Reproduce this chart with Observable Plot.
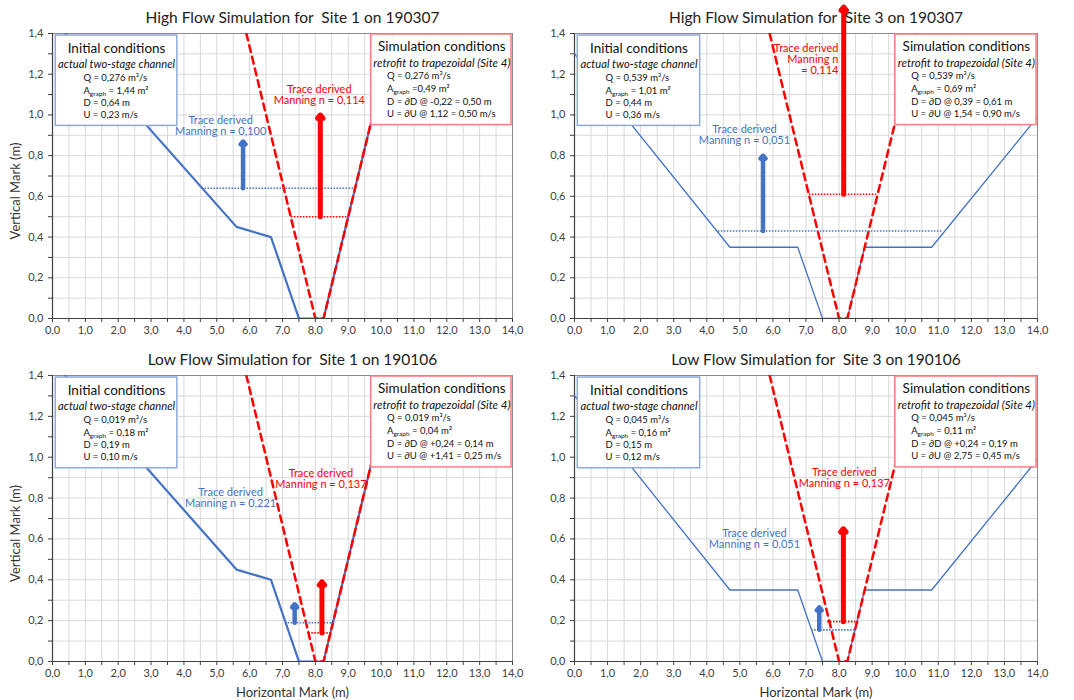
<!DOCTYPE html>
<html><head><meta charset="utf-8">
<script src="https://cdn.jsdelivr.net/npm/d3@7"></script>
<script src="https://cdn.jsdelivr.net/npm/@observablehq/plot@0.6"></script>
<style>
body{margin:0;background:#fff;}
#wrap{position:relative;width:1074px;height:700px;overflow:hidden;background:#fff;}
.panel{position:absolute;}
.panel svg{background:transparent;overflow:visible;}
.panel text{white-space:pre;}
</style></head><body><div id="wrap"></div>
<script>
// ---------- data ----------
const titles = [
  "High Flow Simulation for  Site 1 on 190307",
  "High Flow Simulation for  Site 3 on 190307",
  "Low Flow Simulation for  Site 1 on 190106",
  "Low Flow Simulation for  Site 3 on 190106"
];
const panelSite = [1, 3, 1, 3];
// actual two-stage channel cross sections (blue)
const site1X = [0, 5.6, 6.65, 7.5, 8.25, 10.35];
const site1Y = [1.47, 0.45, 0.40, 0.0, 0.0, 1.4];
const site3X = [0, 4.7, 6.75, 7.5, 8.25, 8.77, 10.8, 14.0];
const site3Y = [1.3, 0.35, 0.35, 0.0, 0.0, 0.35, 0.35, 0.99];
// retrofit trapezoidal channel (red dashed)
const trapX = [5.9, 8.0, 8.25, 10.35];
const trapY = [1.4, 0.0, 0.0, 1.4];

const initLines = [
  ["Q = 0,276 m³/s", "Agraph = 1,44 m²", "D = 0,64 m", "U = 0,23 m/s"],
  ["Q = 0,539 m³/s", "Agraph = 1,01 m²", "D = 0,44 m", "U = 0,36 m/s"],
  ["Q = 0,019 m³/s", "Agraph = 0,18 m²", "D = 0,19 m", "U = 0,10 m/s"],
  ["Q = 0,045 m³/s", "Agraph = 0,16 m²", "D = 0,15 m", "U = 0,12 m/s"]
];
const simLines = [
  ["Q = 0,276 m³/s", "Agraph =0,49 m²", "D = ∂D @ -0,22 = 0,50 m", "U = ∂U @ 1,12 = 0,50 m/s"],
  ["Q = 0,539 m³/s", "Agraph = 0,69 m²", "D = ∂D @ 0,39 = 0,61 m", "U = ∂U @ 1,54 = 0,90 m/s"],
  ["Q = 0,019 m³/s", "Agraph = 0,04 m²", "D = ∂D @ +0,24 = 0,14 m", "U = ∂U @ +1,41 = 0,25 m/s"],
  ["Q = 0,045 m³/s", "Agraph = 0,11 m²", "D = ∂D @ +0,24 = 0,19 m", "U = ∂U @ 2,75 = 0,45 m/s"]
];
const blueLabels = [
  "Trace derived\nManning n = 0,100",
  "Trace derived\nManning n = 0,051",
  "Trace derived\nManning n = 0,221",
  "Trace derived\nManning n = 0,051"
];
const redLabels = [
  "Trace derived\nManning n = 0,114",
  "Trace derived\nManning n\n= 0,114",
  "Trace derived\nManning n = 0,137",
  "Trace derived\nManning n = 0,137"
];
const blueDepth    = [0.64, 0.43, 0.19, 0.155];
const blueDotFrom  = [4.55, 4.35, 7.17, 7.17];
const blueDotTo    = [9.2, 11.15, 8.6, 8.5];
const blueArrowX   = [5.8, 5.7, 7.37, 7.4];
const blueArrowTop = [0.87, 0.80, 0.28, 0.265];
const redDepth     = [0.50, 0.61, 0.14, 0.195];
const redDotFrom   = [7.27, 7.1, 7.8, 7.65];
const redDotTo     = [9.03, 9.17, 8.5, 8.6];
const redArrowX    = [8.15, 8.14, 8.2, 8.13];
const redArrowTop  = [1.0, 1.53, 0.39, 0.65];
const blueLabelX = [5.12, 5.14, 5.42, 5.44];
const blueLabelY = [0.945, 0.90, 0.80, 0.60];
const redLabelX  = [8.12, 7.98, 8.17, 8.16];
const redLabelY  = [1.10, 1.27, 0.894, 0.90];
const redLabelAnchor = ["middle", "end", "middle", "middle"];

const xTicks = d3.range(0, 29).map(i => i / 2);
const yTicks = d3.range(0, 15).map(i => i / 10);

// ---------- layout ----------
const panelLeft = [0, 537, 0, 537];
const panelTop = [0, 0, 340, 340];
const panelH = [340, 340, 360, 360];
const mLeft = [52, 37, 52, 37];
const mRight = [25, 37, 25, 37];
const mTop = [33, 33, 35, 35];
const mBottom = [22, 22, 39, 39];

const BLUE = "#4472c4", RED = "#ff0000";
const fmt = d => d.toFixed(1).replace(".", ",");
const FONT = "Lato, 'Open Sans', sans-serif";

function makePanel(i) {
  const site = panelSite[i];
  const px = site === 1 ? site1X : site3X;
  const py = site === 1 ? site1Y : site3Y;
  const profile = px.map((x, j) => ({x, y: py[j]}));
  const trap = trapX.map((x, j) => ({x, y: trapY[j]}));
  const isLeft = i % 2 === 0, isBottom = i >= 2;
  const initTextRows = initLines[i].map((t, j) => ({t, y: [1.18, 1.12, 1.06, 1.0][j]}));
  const simTextRows = simLines[i].map((t, j) => ({t, y: [1.19, 1.13, 1.066, 1.004][j]}));

  const marks = [
    Plot.gridX(xTicks, {stroke: "#d9d9d9", strokeOpacity: 1}),
    Plot.gridY(yTicks, {stroke: "#d9d9d9", strokeOpacity: 1}),
    Plot.frame({stroke: "#8c8c8c"}),
    Plot.axisX(xTicks, {tickFormat: d => Number.isInteger(d) ? fmt(d) : "", tickSize: 4, tickPadding: 4,
      label: null, fontSize: 11, color: "#404040"}),
    Plot.axisY(yTicks, {tickFormat: d => Math.round(d * 10) % 2 === 0 ? fmt(d) : "", tickSize: 4, tickPadding: 5,
      label: null, fontSize: 11, color: "#404040"}),
    Plot.ruleY([0], {stroke: "#404040", strokeWidth: 1.2}),
    Plot.ruleX([0], {stroke: "#404040", strokeWidth: 1.2}),
    Plot.text([titles[i]], {frameAnchor: "top", lineAnchor: "middle", dy: -15, dx: 10, fontSize: 15.5, fill: "#222"}),
    Plot.line(profile, {x: "x", y: "y", stroke: BLUE, strokeWidth: site === 1 ? 2.2 : 1.3, clip: true}),
    Plot.line(trap, {x: "x", y: "y", stroke: RED, strokeWidth: 2.5, strokeDasharray: "7,5", clip: true}),
    Plot.ruleY([blueDepth[i]], {x1: blueDotFrom[i], x2: blueDotTo[i], stroke: BLUE, strokeWidth: 1.6, strokeDasharray: "1.5,1.5"}),
    Plot.ruleY([redDepth[i]], {x1: redDotFrom[i], x2: redDotTo[i], stroke: RED, strokeWidth: 1.6, strokeDasharray: "1.5,1.5"}),
    Plot.arrow([0], {x1: blueArrowX[i], y1: blueDepth[i], x2: blueArrowX[i], y2: blueArrowTop[i],
      stroke: BLUE, strokeWidth: 4.5, headLength: 1.3, headAngle: 80}),
    Plot.arrow([0], {x1: redArrowX[i], y1: redDepth[i], x2: redArrowX[i], y2: redArrowTop[i],
      stroke: RED, strokeWidth: 5, headLength: 1.3, headAngle: 80}),
    // condition boxes
    Plot.rect([0], {x1: 0.1, x2: 3.8, y1: 0.946, y2: 1.39, fill: "white", stroke: "#8faadc", strokeWidth: 1.5}),
    Plot.rect([0], {x1: 9.7, x2: 13.97, y1: 0.95, y2: 1.395, fill: "white", stroke: "#ff7c80", strokeWidth: 1.5}),
    Plot.text(["Initial conditions"], {x: 1.95, y: 1.326, fontSize: 13.5, fill: "#111"}),
    Plot.text(["actual two-stage channel"], {x: 1.95, y: 1.247, fontSize: 11.2, fontStyle: "italic", fill: "#111"}),
    Plot.text(initTextRows, {x: 0.94, y: "y", text: "t", textAnchor: "start", fontSize: 9.5, fill: "#111"}),
    Plot.text(["Simulation conditions"], {x: 11.85, y: 1.336, fontSize: 13.5, fill: "#111"}),
    Plot.text(["retrofit to trapezoidal (Site 4)"], {x: 11.85, y: 1.256, fontSize: 11.5, fontStyle: "italic", fill: "#111"}),
    Plot.text(simTextRows, {x: 10.18, y: "y", text: "t", textAnchor: "start", fontSize: 9.5, fill: "#111"}),
    // trace labels
    Plot.text([blueLabels[i]], {x: blueLabelX[i], y: blueLabelY[i], fontSize: 11, lineHeight: 1.0, fill: BLUE}),
    Plot.text([redLabels[i]], {x: redLabelX[i], y: redLabelY[i], fontSize: 11, lineHeight: 1.0, fill: RED,
      textAnchor: redLabelAnchor[i]})
  ];
  if (isLeft) {
    marks.push(Plot.text(["Vertical Mark (m)"], {frameAnchor: "left", rotate: -90, textAnchor: "middle",
      lineAnchor: "middle", dx: -37, dy: 15, fontSize: 13, fill: "#333"}));
  }
  if (isBottom) {
    marks.push(Plot.text(["Horizontal Mark (m)"], {frameAnchor: "bottom", textAnchor: "middle",
      lineAnchor: "middle", dy: 31, dx: 10, fontSize: 13, fill: "#333"}));
  }
  const svg = Plot.plot({
    width: 537, height: panelH[i],
    marginLeft: mLeft[i], marginRight: mRight[i], marginTop: mTop[i], marginBottom: mBottom[i],
    x: {domain: [0, 14]},
    y: {domain: [0, 1.4]},
    style: {fontFamily: FONT, fontSize: "11px", background: "transparent", overflow: "visible"},
    marks
  });
  // subscript "graph"
  svg.querySelectorAll("text").forEach(t => {
    const s = t.textContent;
    if (s.startsWith("Agraph") && t.children.length === 0) {
      const rest = s.slice(6);
      t.textContent = "";
      const ns = "http://www.w3.org/2000/svg";
      const a = document.createElementNS(ns, "tspan"); a.textContent = "A";
      const g = document.createElementNS(ns, "tspan"); g.textContent = "graph";
      g.setAttribute("font-size", "6.5"); g.setAttribute("dy", "2.5");
      const r = document.createElementNS(ns, "tspan"); r.textContent = rest; r.setAttribute("dy", "-2.5");
      t.append(a, g, r);
    }
  });
  const div = document.createElement("div");
  div.className = "panel";
  div.style.left = panelLeft[i] + "px";
  div.style.top = panelTop[i] + "px";
  div.appendChild(svg);
  return div;
}
const wrap = document.getElementById("wrap");
[0, 1, 2, 3].forEach(i => wrap.appendChild(makePanel(i)));
</script>
</body></html>
